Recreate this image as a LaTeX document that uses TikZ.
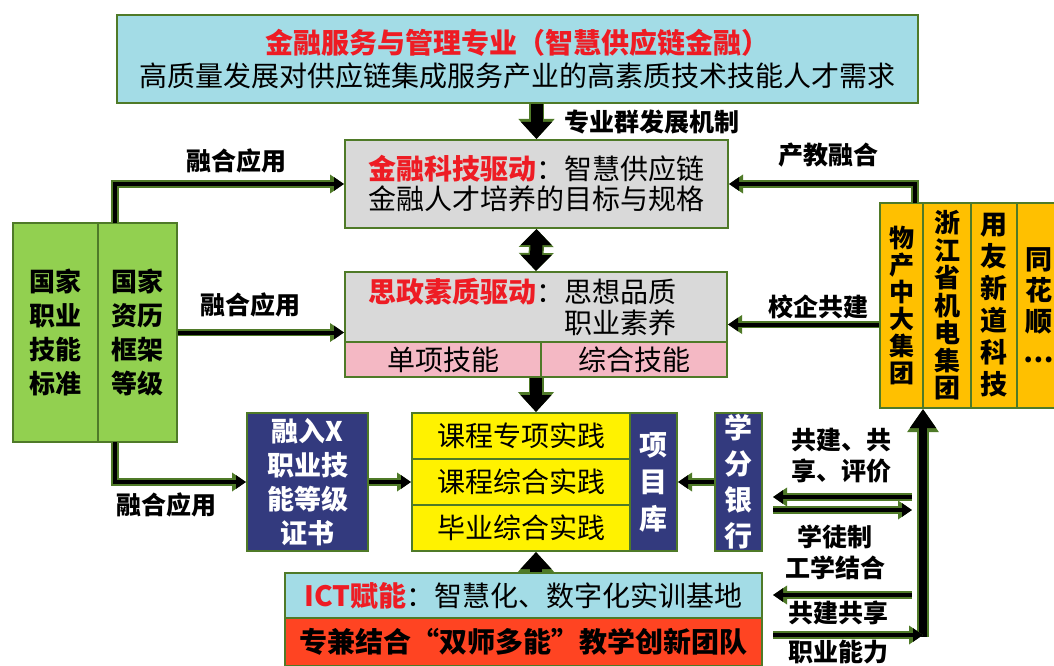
\documentclass[tikz,border=0pt]{standalone}
\usepackage{fontspec}
\setmainfont{Noto Sans CJK SC}
\usetikzlibrary{arrows.meta,calc}

\definecolor{skyfill}{HTML}{A3DCE6}
\definecolor{grayfill}{HTML}{D9D9D9}
\definecolor{pinkfill}{HTML}{F4B8C4}
\definecolor{leaf}{HTML}{92D050}
\definecolor{navyfill}{HTML}{333A7E}
\definecolor{gold}{HTML}{FFC000}
\definecolor{redfill}{HTML}{FF4422}
\definecolor{edge}{HTML}{4F7A28}
\definecolor{hot}{HTML}{EE1C24}

\begin{document}
\begin{tikzpicture}[x=1pt,y=-1pt,
      sz/.style 2 args={minimum width=#1pt,minimum height=#2pt},
      panel/.style={draw=edge,line width=2pt,inner sep=0pt,align=center,font=\fontsize{28}{33}\selectfont},
      darkpanel/.style={panel,fill=navyfill,text=white},
      goldpanel/.style={panel,fill=gold},
      lbl/.style={inner sep=0pt,align=center,font=\bfseries\fontsize{25}{31}\selectfont},
      link/.style={line width=4pt,-{Triangle[width=13pt,length=10pt]},
        preaction={draw=edge,line width=7.5pt,-{Triangle[width=18pt,length=14pt]}}},
      riser/.style={line width=8pt,-{Triangle[width=25pt,length=19pt]},
        preaction={draw=edge,line width=12pt,-{Triangle[width=30pt,length=23pt]}}},
      fat/.style={line width=12pt,-{Triangle[width=30pt,length=17pt]},
        preaction={draw=edge,line width=15pt,-{Triangle[width=35pt,length=20pt]}}},
      fatboth/.style={line width=12pt,{Triangle[width=30pt,length=16pt]}-{Triangle[width=30pt,length=16pt]},
        preaction={draw=edge,line width=15pt,{Triangle[width=34pt,length=18pt]}-{Triangle[width=34pt,length=18pt]}}}]
      \useasboundingbox (0,0) rectangle (1054,666);

      % centre column
      \node[panel,sz={801}{88},fill=skyfill] (top) at (517.5,59)
        {{\color{hot}\bfseries 金融服务与管理专业（智慧供应链金融）}\\高质量发展对供应链集成服务产业的高素质技术技能人才需求};
      \node[panel,sz={383}{88},fill=grayfill,font=\fontsize{28}{30}\selectfont] (fintech) at (536.5,184)
        {{\color{hot}\bfseries 金融科技驱动}：智慧供应链\\金融人才培养的目标与规格};
      \node[panel,sz={382}{105},fill=grayfill] (sizheng) at (536,324.5) {};
      \node[inner sep=0pt,align=left,font=\fontsize{28}{31}\selectfont] (sztxt) at (522,307)
        {{\color{hot}\bfseries 思政素质驱动}：思想品质\\\phantom{思政素质驱动：}职业素养};
      \node[panel,sz={196}{35},fill=pinkfill] (single) at (443,359.5) {单项技能};
      \node[panel,sz={186}{35},fill=pinkfill] (combo) at (634,359.5) {综合技能};
      \foreach \t [count=\i] in {课程专项实践,课程综合实践,毕业综合实践}
        \node[panel,sz={218}{46},fill=yellow] (row\i) at (521,{436+46*(\i-1)}) {\t};
      \node[darkpanel,sz={47}{138},font=\bfseries\fontsize{28}{37}\selectfont] (pool) at (653.5,482) {项\\目\\库};
      \node[darkpanel,sz={47}{138},font=\bfseries\fontsize{28}{36}\selectfont] (bank) at (738.5,482) {学\\分\\银\\行};
      \node[panel,sz={477}{45},fill=skyfill] (ict) at (523.5,595.5)
        {{\color{hot}\bfseries ICT赋能}：智慧化、数字化实训基地};
      \node[panel,sz={477}{48},fill=redfill,font=\bfseries\fontsize{28}{33}\selectfont] (team) at (523.5,642)
        {专兼结合“双师多能”教学创新团队};

      % left side
      \node[panel,sz={85}{219},fill=leaf,font=\bfseries\fontsize{26}{34}\selectfont] (std) at (55.5,332.5) {国家\\职业\\技能\\标准};
      \node[panel,sz={79}{219},fill=leaf,font=\bfseries\fontsize{26}{34}\selectfont] (qual) at (137.5,332.5) {国家\\资历\\框架\\等级};
      \node[darkpanel,sz={121}{138},font=\bfseries\fontsize{27}{34}\selectfont] (cert) at (307.5,482) {融入X\\职业技\\能等级\\证书};

      % right side: companies
      \node[goldpanel,sz={43}{205},font=\bfseries\fontsize{25}{27}\selectfont] (o1) at (901.5,305.5) {物\\产\\中\\大\\集\\团};
      \node[goldpanel,sz={48}{205},font=\bfseries\fontsize{26}{27.5}\selectfont] (o2) at (947,305.5) {浙\\江\\省\\机\\电\\集\\团};
      \node[goldpanel,sz={46}{205},font=\bfseries\fontsize{27}{32}\selectfont] (o3) at (994,305.5) {用\\友\\新\\道\\科\\技};
      \node[goldpanel,sz={43}{205},font=\bfseries\fontsize{27}{31}\selectfont] (o4) at (1038.5,305.5) {同\\花\\顺\\…};

      % labels
      \node[lbl] (mech) at (652,122) {专业群发展机制};
      \node[lbl] (fuse1) at (236,161) {融合应用};
      \node[lbl] (fuse2) at (250,305) {融合应用};
      \node[lbl] (fuse3) at (166,505) {融合应用};
      \node[lbl] (ind) at (828,155) {产教融合};
      \node[lbl] (coop) at (818,307) {校企共建};
      \node[lbl] (share1) at (841,456) {共建、共\\享、评价};
      \node[lbl] (appr) at (835,552) {学徒制\\工学结合};
      \node[lbl] (share2) at (838,613) {共建共享};
      \node[lbl] (ability) at (838,652) {职业能力};

      % connectors
      \coordinate (gtop) at (115,223);
      \coordinate (gbot) at (115,442);
      \coordinate (otop) at (915,203);
      \coordinate (vbot) at (923,637);
      \foreach \n/\y in {a/497,b/510,c/595,d/635} {
        \coordinate (\n w) at (773,\y);
        \coordinate (\n e) at (912,\y);
      }
      \draw[fat] (fintech.north |- top.south) -- (fintech.north);
      \draw[fatboth] (fintech.south) -- (sizheng.north);
      \draw[fat] (sizheng.south) -- (sizheng.south |- row1.north);
      \draw[fat] (ict.north -| sizheng.south) -- (sizheng.south |- row3.south);
      \draw[link] (gtop) |- (fintech.west);
      \draw[link] (qual.east) -- (qual.east -| sizheng.west);
      \draw[link] (gbot) |- (cert.west);
      \draw[link] (otop) |- (fintech.east);
      \draw[link] (o1.west |- sizheng.east) -- (sizheng.east);
      \draw[link] (cert.east) -- (row2.west);
      \draw[link] (bank.west) -- (pool.east);
      \draw[riser] (vbot) -- (vbot |- o1.south);
      \draw[link] (ae) -- (aw);
      \draw[link] (bw) -- (be);
      \draw[link] (ce) -- (cw);
      \draw[link] (dw) -- (vbot |- dw);
    \end{tikzpicture}
\end{document}
